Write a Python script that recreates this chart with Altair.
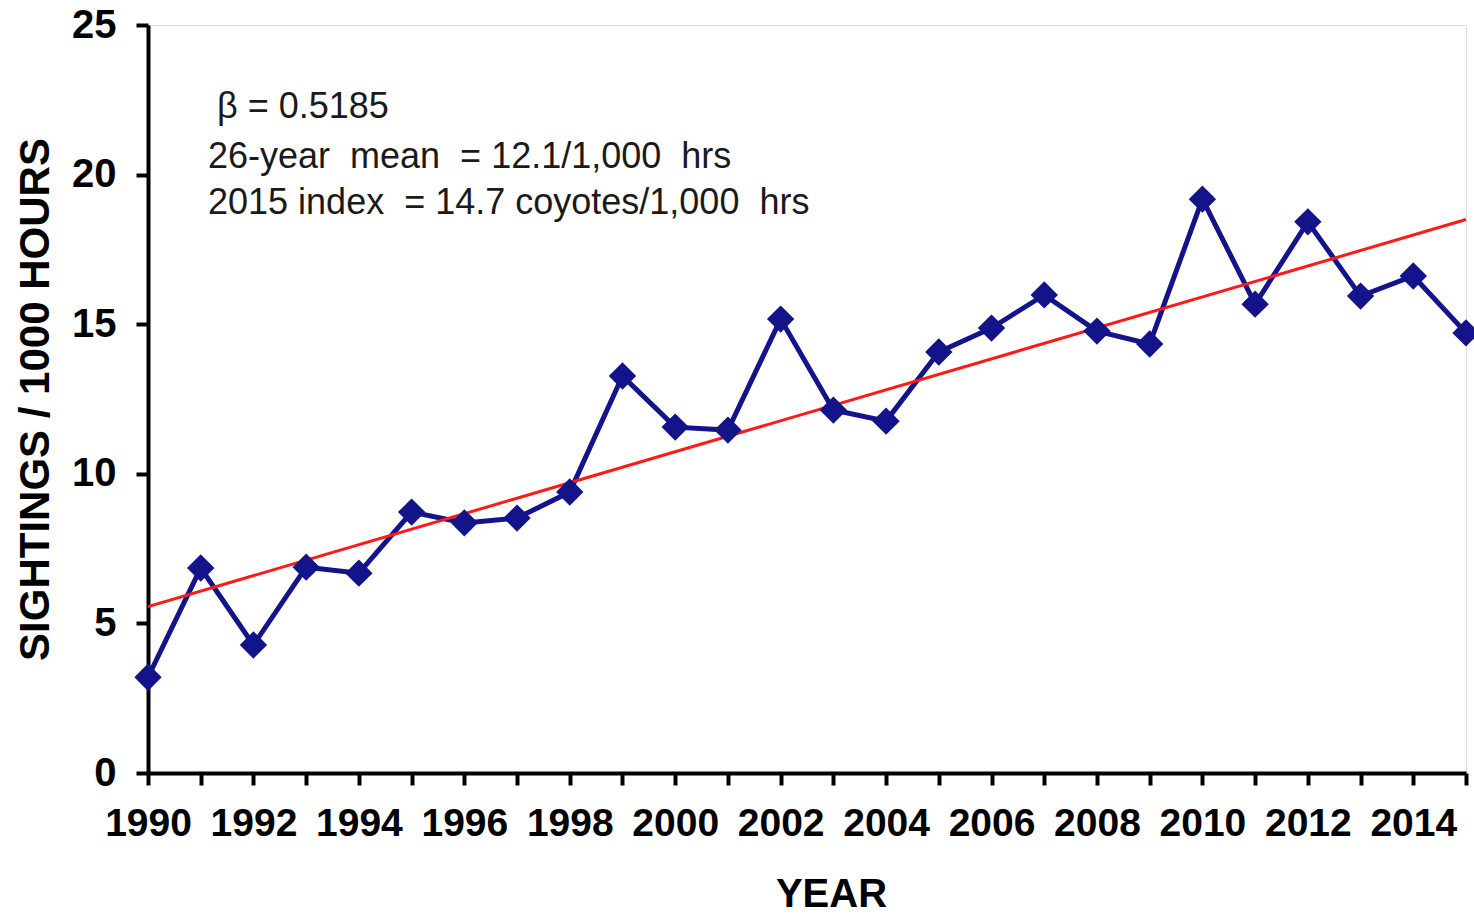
import altair as alt
import pandas as pd

years = list(range(1990, 2016))
sightings = [3.2, 6.85, 4.28, 6.88, 6.68, 8.72, 8.36, 8.52, 9.39, 13.27,
             11.56, 11.46, 15.17, 12.13, 11.76, 14.07, 14.87, 15.98, 14.77, 14.34,
             19.18, 15.67, 18.42, 15.94, 16.61, 14.71]
NB = "\u00a0"
notes = ["β = 0.5185",
         f"26-year {NB}mean {NB}= 12.1/1,000 {NB}hrs",
         f"2015 index {NB}= 14.7 coyotes/1,000 {NB}hrs"]
note_x = [69, 60, 60]
note_y = [82, 132, 178]

df = pd.DataFrame({"year": years, "value": sightings})
notes_df = pd.DataFrame({"text": notes, "nx": note_x, "ny": note_y})

FONT = "Liberation Sans"

x_enc = alt.X("year:Q",
              scale=alt.Scale(domain=[1990, 2015], nice=False, zero=False),
              axis=alt.Axis(values=years, labelExpr="datum.value % 2 == 0 ? datum.value : ''",
                            title="YEAR", grid=False, domainWidth=4, domainColor="black",
                            tickWidth=4, tickColor="black", tickSize=12,
                            labelFont=FONT, labelFontSize=39, labelFontWeight="bold",
                            labelColor="black", labelPadding=19, labelOverlap=False,
                            labelFlush=False,
                            titleFont=FONT, titleFontSize=40, titleFontWeight="bold",
                            titleColor="black", titleX=683, titleY=133,
                            titleBaseline="alphabetic"))
y_enc = alt.Y("value:Q",
              scale=alt.Scale(domain=[0, 25], nice=False),
              axis=alt.Axis(values=[0, 5, 10, 15, 20, 25], title="SIGHTINGS / 1000 HOURS",
                            grid=False, domainWidth=4, domainColor="black",
                            tickWidth=4, tickColor="black", tickSize=12,
                            labelFont=FONT, labelFontSize=40, labelFontWeight="bold",
                            labelColor="black", labelPadding=20,
                            titleFont=FONT, titleFontSize=42, titleFontWeight="bold",
                            titleColor="black", titlePadding=14))

base = alt.Chart(df)

line = base.mark_line(color="#14148a", strokeWidth=5).encode(x=x_enc, y=y_enc)
points = base.mark_point(shape="diamond", filled=True, color="#14148a", size=750, opacity=1).encode(
    x="year:Q", y="value:Q")
trend = base.transform_regression("year", "value", extent=[1990, 2015]).mark_line(
    color="#ff1a1a", strokeWidth=3).encode(x="year:Q", y="value:Q")

text = alt.Chart(notes_df).mark_text(align="left", baseline="middle", font=FONT,
                                     fontSize=36, color="#1a1a1a").encode(
    x=alt.X("nx:Q", scale=None), y=alt.Y("ny:Q", scale=None), text="text:N")

chart = alt.layer(line, trend, points, text).properties(
    width=1318, height=748,
    autosize=alt.AutoSizeParams(type="none"),
    padding={"left": 148, "top": 25, "right": 8, "bottom": 142},
).configure_view(stroke=None).configure(background="white")

chart.save("out.html", embed_options={"renderer": "svg", "actions": False})
